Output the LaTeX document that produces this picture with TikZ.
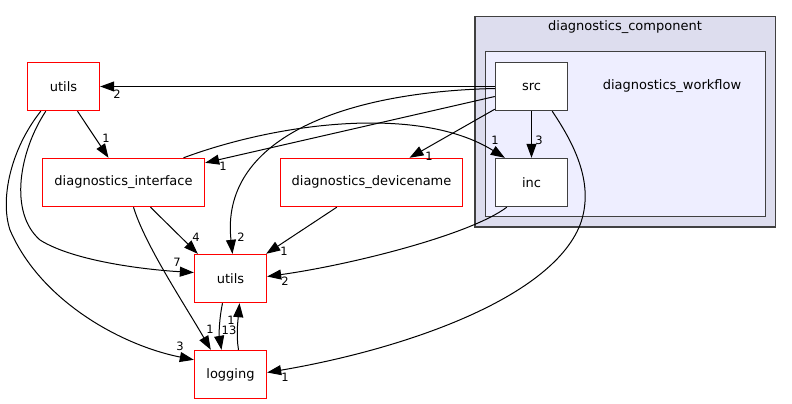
\documentclass[tikz,border=0pt]{standalone}
\usepackage{fontspec}
\setmainfont{DejaVu Sans}
\usetikzlibrary{arrows.meta,calc}
\definecolor{clouter}{HTML}{DDDDEE}
\definecolor{clinner}{HTML}{EEEEFF}
\definecolor{clborder}{HTML}{404040}
\definecolor{boxred}{HTML}{FF0000}
\tikzset{
  redbox/.style={draw=boxred,fill=white,line width=1.4pt,minimum height=48pt,inner sep=0pt,font=\fontsize{13}{15}\selectfont},
  dirbox/.style={draw=clborder,fill=white,line width=1.4pt,minimum width=72pt,minimum height=48pt,inner sep=0pt,font=\fontsize{13}{15}\selectfont},
  edge/.style={draw=black,line width=1pt,-{Triangle[length=14pt,width=10pt]}},
  lbl/.style={inner sep=0pt,font=\fontsize{11.5}{13}\selectfont},
  cltext/.style={inner sep=0pt,font=\fontsize{13}{15}\selectfont}
}
\begin{document}
\begin{tikzpicture}[x=1pt,y=-1pt]
\useasboundingbox (0,0) rectangle (792,404);
\fill[white] (0,0) rectangle (792,404);
% clusters
\draw[fill=clouter,draw=clborder,line width=1.6pt] (475,16.5) rectangle (775.5,227);
\node[cltext] (compl) at (625,27) {diagnostics\_component};
\draw[fill=clinner,draw=clborder,line width=1.4pt] (485.5,51.5) rectangle (765.5,216.5);
\node[cltext] (wfl) at (672,86) {diagnostics\_workflow};
% nodes
\node[dirbox] (src) at (531.5,86.5) {src};
\node[dirbox] (inc) at (531.5,182.5) {inc};
\node[redbox,minimum width=72pt] (utilsA) at (63.5,86.5) {utils};
\node[redbox,minimum width=162pt] (diface) at (123.5,182.5) {diagnostics\_interface};
\node[redbox,minimum width=182pt] (ddev) at (371.5,182.5) {diagnostics\_devicename};
\node[redbox,minimum width=72pt] (utilsB) at (230.5,278.5) {utils};
\node[redbox,minimum width=72pt] (logging) at (230.5,374.5) {logging};
% edges
\draw[edge] (src.west) -- (utilsA.east);
\node[lbl] (l1) at (117,94) {2};
\draw[edge] ($(src.west)+(0,10)$) -- ($(diface.north east)+(0,5)$);
\node[lbl] (l2) at (223,166) {1};
\draw[edge] ($(diface.north)+(60,0)$) .. controls (280,122) and (420,105) .. ($(inc.north west)+(10,0)$);
\node[lbl] (l3) at (495,140) {1};
\draw[edge] ($(src.south west)+(0,-2)$) -- ($(ddev.north)+(38,0)$);
\node[lbl] (l4) at (429,156) {1};
\draw[edge] ($(src.west)+(0,2)$) .. controls (340,92) and (220,140) .. ($(utilsB.north)+(2,0)$);
\node[lbl] (l5) at (241,237) {2};
\draw[edge] (src.south) -- (inc.north);
\node[lbl] (l6) at (539,140) {3};
\draw[edge] ($(src.south east)+(-16,0)$) .. controls (575,145) and (595,185) .. (580,225) .. controls (550,300) and (400,350) .. ($(logging.east)+(0,-2)$);
\node[lbl] (l7) at (285,377) {1};
\draw[edge] ($(inc.south west)+(12,0)$) .. controls (470,235) and (350,265) .. ($(utilsB.east)+(0,-2)$);
\node[lbl] (l8) at (285,281) {2};
\draw[edge] ($(ddev.south west)+(57,0)$) -- ($(utilsB.north east)+(-1,0)$);
\node[lbl] (l9) at (284,251) {1};
\draw[edge] ($(diface.south)+(27,0)$) -- ($(utilsB.north west)+(4,0)$);
\node[lbl] (l10) at (196,237) {4};
\draw[edge] ($(diface.south)+(10,0)$) .. controls (145,245) and (185,305) .. ($(logging.north west)+(17,0)$);
\node[lbl] (l11) at (210,329) {1};
\draw[edge] ($(utilsA.south)+(14,0)$) -- ($(diface.north)+(-15,0)$);
\node[lbl] (l12) at (106,138) {1};
\draw[edge] ($(utilsA.south west)+(19,0)$) .. controls (20,150) and (8,212) .. (40,240) .. controls (75,262) and (150,270) .. ($(utilsB.west)+(0,-6)$);
\node[lbl] (l13) at (177,262) {7};
\draw[edge] ($(utilsA.south west)+(14,0)$) .. controls (10,150) and (0,200) .. (10,230) .. controls (40,300) and (120,345) .. ($(logging.north west)+(0,10)$);
\node[lbl] (l14) at (180,346) {3};
\draw[edge] ($(utilsB.south)+(-8,0)$) .. controls (219,320) and (219,335) .. ($(logging.north)+(-9,0)$);
\node[lbl] (l15) at (229,330) {13};
\draw[edge] ($(logging.north)+(8,0)$) .. controls (236,335) and (238,320) .. ($(utilsB.south)+(9,0)$);
\node[lbl] (l16) at (231,320) {1};
\end{tikzpicture}
\end{document}
